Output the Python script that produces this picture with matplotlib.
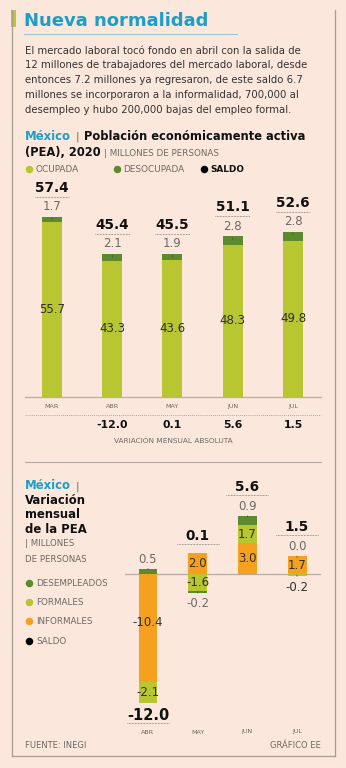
import numpy as np
import matplotlib.pyplot as plt

# Colours
BG = "#fbe7db"
LIME = "#b7c631"
DGREEN = "#5c8a2d"
ORANGE = "#f6a020"
TEAL = "#1f9dc6"
TXT = "#2f2f2f"
GRAY = "#6e6863"
FRAME = "#a99c93"

# Población económicamente activa (millones de personas)
months1 = ["MAR", "ABR", "MAY", "JUN", "JUL"]
ocupada = [55.7, 43.3, 43.6, 48.3, 49.8]
desocupada = [1.7, 2.1, 1.9, 2.8, 2.8]
total_pea = [57.4, 45.4, 45.5, 51.1, 52.6]
variacion = ["", "-12.0", "0.1", "5.6", "1.5"]

# Variación mensual de la PEA (millones de personas)
months2 = ["ABR", "MAY", "JUN", "JUL"]
desempleados = [0.5, -0.2, 0.9, 0.0]
formales = [-2.1, -1.6, 1.7, -0.2]
informales = [-10.4, 2.0, 3.0, 1.7]
saldo = [-12.0, 0.1, 5.6, 1.5]

intro = [
    "El mercado laboral tocó fondo en abril con la salida de",
    "12 millones de trabajadores del mercado laboral, desde",
    "entonces 7.2 millones ya regresaron, de este saldo 6.7",
    "millones se incorporaron a la informalidad, 700,000 al",
    "desempleo y hubo 200,000 bajas del empleo formal.",
]

W, H = 346, 768
plt.rcParams["font.family"] = ["DejaVu Sans"]

fig = plt.figure(figsize=(W / 100, H / 100), dpi=100, facecolor=BG)


def px_axes(x0, y0, x1, y1):
    # axes placed with pixel edges measured from the top-left corner
    return fig.add_axes([x0 / W, 1 - y1 / H, (x1 - x0) / W, (y1 - y0) / H])


# page layer in pixel coordinates
pg = px_axes(0, 0, W, H)
pg.set_xlim(0, W)
pg.set_ylim(H, 0)
pg.axis("off")
pg.patch.set_alpha(0)

# frame
pg.plot([12, 12], [10, 756], color=FRAME, lw=0.9)
pg.plot([335, 335], [10, 756], color=FRAME, lw=0.9)
pg.plot([12, 335], [756, 756], color=FRAME, lw=0.9)
pg.add_patch(plt.Rectangle((10.5, 10), 5, 17, color=LIME, lw=0))

# title and intro
pg.text(24, 26, "Nueva normalidad", color=TEAL, fontsize=13,
        fontweight="bold", va="baseline")
pg.plot([24, 237], [34, 34], color="#8cc7d6", lw=0.7)
for i, line in enumerate(intro):
    pg.text(25, 53.5 + i * 14.9, line, color="#363230", fontsize=7.3,
            va="baseline")

# heading of first chart
pg.text(25, 140, "México", color=TEAL, fontsize=8.4, fontweight="bold",
        va="baseline")
pg.text(76, 140, "|", color=GRAY, fontsize=7.5, va="baseline")
pg.text(84, 140, "Población económicamente activa", color="#111111",
        fontsize=8.3, fontweight="bold", va="baseline")
pg.text(25, 155.5, "(PEA), 2020", color="#111111", fontsize=8.3,
        fontweight="bold", va="baseline")
pg.text(104, 155.5, "| MILLONES DE PERSONAS", color=GRAY, fontsize=6.3,
        va="baseline")

# legend of first chart
for x, c, lab, wt in [(29, LIME, "OCUPADA", "normal"),
                      (117, DGREEN, "DESOCUPADA", "normal"),
                      (204, "black", "SALDO", "bold")]:
    pg.plot(x, 169, "o", color=c, ms=5.4, mec="none")
    pg.text(x + 6, 169.5, lab, color=GRAY if wt == "normal" else "#111111",
            fontsize=6.4, fontweight=wt, va="center")

# first chart
ax1 = px_axes(25, 170, 321, 396.7)
ax1.patch.set_alpha(0)
x1 = np.arange(len(months1))
ax1.set_xlim(-0.448, 4.465)
ax1.set_ylim(0, (396.7 - 170) / 3.136)
bw1 = 20 / 60.25
ax1.bar(x1, ocupada, bw1, color=LIME, lw=0)
ax1.bar(x1, desocupada, bw1, bottom=ocupada, color=DGREEN, lw=0)
for s in ["top", "right", "left"]:
    ax1.spines[s].set_visible(False)
ax1.spines["bottom"].set_color("#b7aca4")
ax1.spines["bottom"].set_linewidth(0.9)
ax1.set_yticks([])
ax1.set_xticks(x1)
ax1.set_xticklabels(months1, fontsize=4.6, color=GRAY)
ax1.tick_params(axis="x", length=0, pad=5.5)

for i in range(len(months1)):
    top = ocupada[i] + desocupada[i]
    ax1.text(i, ocupada[i] / 2, f"{ocupada[i]:.1f}", ha="center", va="center",
             fontsize=8.5, color=TXT)
    ax1.annotate(f"{desocupada[i]:.1f}", (i, top), xytext=(0, 7.5),
                 textcoords="offset points", ha="center", va="center",
                 fontsize=8.5, color=GRAY)
    ax1.annotate("", (i, top - 1), xytext=(0, 3.5), textcoords="offset points",
                 arrowprops=dict(arrowstyle="-", color="#4a4a4a", lw=0.5))
    ax1.annotate(f"{total_pea[i]:.1f}", (i, top), xytext=(0, 21),
                 textcoords="offset points", ha="center", va="center",
                 fontsize=9.8, color="#111111", fontweight="bold")
    yl = top + 20 / 3.136
    ax1.plot([i - 0.29, i + 0.29], [yl, yl], color="#555555", lw=0.5,
             ls=(0, (1, 1.2)), clip_on=False)

# monthly variation row
pg.plot([25, 321], [415, 415], color="#9a8f88", lw=0.6, ls=(0, (1, 1.5)))
for i, v in enumerate(variacion):
    xp = 52 + i * 60.25
    pg.text(xp, 424.5, v, ha="center", va="center", fontsize=7.8,
            fontweight="bold", color="#111111")
pg.text(173, 441, "VARIACIÓN MENSUAL ABSOLUTA", ha="center", va="center",
        fontsize=5.3, color=GRAY)

# separator
pg.plot([25, 321], [462, 462], color="#b3a79f", lw=0.8)

# heading and legend of second chart
pg.text(25, 489, "México", color=TEAL, fontsize=8.4, fontweight="bold",
        va="baseline")
pg.text(76, 489, "|", color=GRAY, fontsize=7.5, va="baseline")
for j, s in enumerate(["Variación", "mensual", "de la PEA"]):
    pg.text(25, 504 + j * 14.5, s, color="#111111", fontsize=8.4,
            fontweight="bold", va="baseline")
pg.text(25, 546.5, "| MILLONES", color=GRAY, fontsize=6.2, va="baseline")
pg.text(25, 561.5, "DE PERSONAS", color=GRAY, fontsize=6.2, va="baseline")
for k, (c, lab) in enumerate([(DGREEN, "DESEMPLEADOS"), (LIME, "FORMALES"),
                              (ORANGE, "INFORMALES"), ("black", "SALDO")]):
    yy = 583 + k * 19.2
    pg.plot(29, yy, "o", color=c, ms=5.4, mec="none")
    pg.text(36, yy + 0.5, lab, color=GRAY, fontsize=6.3, va="center")

# second chart: stacked from zero outward (informales, formales, desempleados)
SC = 10.35
ax2 = px_axes(125, 470, 321, 740)
ax2.patch.set_alpha(0)
x2 = np.arange(len(months2))
ax2.set_xlim(-0.463, 3.483)
ax2.set_ylim(-(740 - 574) / SC, (574 - 470) / SC)
ax2.axis("off")
bw2 = 19 / 49.7
pos = np.zeros(len(months2))
neg = np.zeros(len(months2))
segs = {}
for name, vals, c in [("inf", informales, ORANGE), ("for", formales, LIME),
                      ("des", desempleados, DGREEN)]:
    vals = np.array(vals)
    base = np.where(vals >= 0, pos, neg)
    ax2.bar(x2, vals, bw2, bottom=base, color=c, lw=0, zorder=2)
    segs[name] = base + vals / 2
    pos = np.where(vals >= 0, pos + vals, pos)
    neg = np.where(vals < 0, neg + vals, neg)
ax2.axhline(0, color="#b7aca4", lw=0.9, zorder=1)


def outside_label(i, v, color):
    # small values go just outside the end of the stack, with a short tick
    if v >= 0:
        ax2.annotate(f"{v:.1f}", (i, pos[i]), xytext=(0, 7),
                     textcoords="offset points", ha="center", va="center",
                     fontsize=8.5, color=color)
        ax2.annotate("", (i, pos[i] - 0.1), xytext=(0, 3),
                     textcoords="offset points",
                     arrowprops=dict(arrowstyle="-", color="#4a4a4a", lw=0.5))
    else:
        ax2.annotate(f"{v:.1f}", (i, neg[i]), xytext=(0, -8),
                     textcoords="offset points", ha="center", va="center",
                     fontsize=8.5, color=color)
        ax2.annotate("", (i, neg[i] + 0.1), xytext=(0, -3),
                     textcoords="offset points",
                     arrowprops=dict(arrowstyle="-", color="#4a4a4a", lw=0.5))


for i in range(len(months2)):
    yi = segs["inf"][i]
    if informales[i] < -5:
        yi += 0.5
    ax2.text(i, yi, f"{informales[i]:.1f}", ha="center",
             va="center", fontsize=8.5, color=TXT, zorder=3)
    if abs(formales[i]) >= 0.5:
        ax2.text(i, segs["for"][i], f"{formales[i]:.1f}", ha="center",
                 va="center", fontsize=8.5, color=TXT, zorder=3)
    else:
        outside_label(i, formales[i], TXT)
    d = desempleados[i]
    outside_label(i, d, GRAY)
    # saldo
    s = saldo[i]
    if s < 0:
        yt, off, ul = neg[i], -9, -14
    elif d >= 0:
        yt, off, ul = pos[i], 21, 15.5
    else:
        yt, off, ul = pos[i], 12.5, 6.5
    ax2.annotate(f"{s:.1f}", (i, yt), xytext=(0, off),
                 textcoords="offset points", ha="center", va="center",
                 fontsize=10.5 if s < 0 else 9.8, color="#111111",
                 fontweight="bold")
    yl = yt + ul / 0.72 / SC
    ax2.plot([i - 0.42, i + 0.42], [yl, yl], color="#555555", lw=0.5,
             ls=(0, (1, 1.2)), clip_on=False)
    ax2.text(i, -(732 - 574) / SC, months2[i], ha="center", va="center",
             fontsize=4.6, color=GRAY)

pg.text(25, 745.5, "FUENTE: INEGI", color=GRAY, fontsize=6, va="center")
pg.text(321, 745.5, "GRÁFICO EE", color=GRAY, fontsize=6, va="center",
        ha="right")

fig.savefig("out.png", dpi=100, facecolor=BG)
